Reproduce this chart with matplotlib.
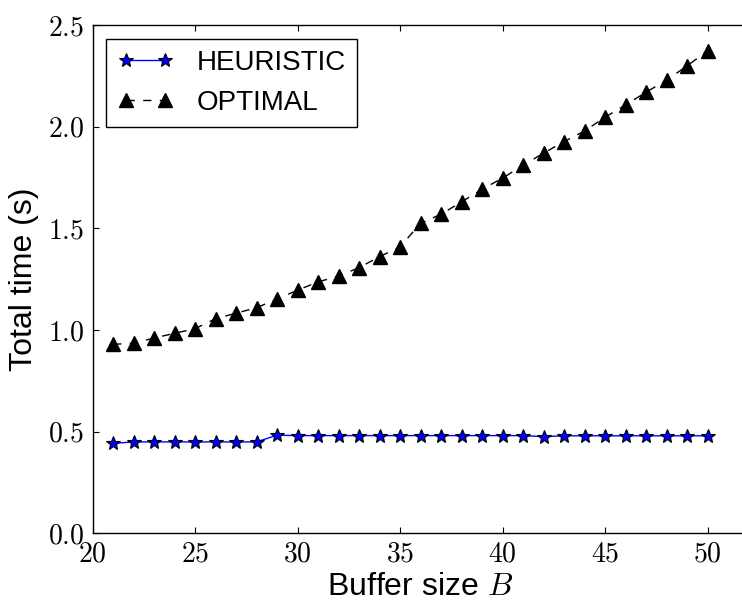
import matplotlib
matplotlib.use("Agg")
import matplotlib.pyplot as plt
from matplotlib.ticker import FuncFormatter

# ------------------------------------------------------------
# Data
# ------------------------------------------------------------

buffer_sizes = list(range(21, 51))

heuristic_time = [
    0.443, 0.450, 0.450, 0.450, 0.450, 0.450, 0.450, 0.450,
    0.483, 0.481, 0.481, 0.481, 0.481, 0.481, 0.481, 0.481,
    0.481, 0.481, 0.481, 0.481, 0.481, 0.476, 0.480, 0.480,
    0.480, 0.480, 0.480, 0.480, 0.480, 0.480,
]

optimal_time = [
    0.930, 0.935, 0.961, 0.984, 1.007, 1.056, 1.083, 1.110,
    1.153, 1.196, 1.237, 1.265, 1.307, 1.361, 1.409, 1.525,
    1.570, 1.630, 1.693, 1.747, 1.811, 1.870, 1.927, 1.979,
    2.047, 2.107, 2.170, 2.229, 2.299, 2.374,
]

x_ticks = [20, 25, 30, 35, 40, 45, 50]
y_ticks = [0.0, 0.5, 1.0, 1.5, 2.0, 2.5]

# ------------------------------------------------------------
# Plot
# ------------------------------------------------------------

plt.rcParams["mathtext.fontset"] = "cm"
plt.rcParams["font.family"] = ["Liberation Sans", "DejaVu Sans"]

fig = plt.figure(figsize=(7.42, 6.03), dpi=100)
ax = fig.add_axes([0.1247, 0.1154, 0.8841, 0.843])

ax.plot(
    buffer_sizes, heuristic_time,
    color="b", linestyle="-", linewidth=1.0,
    marker="*", markersize=10.5, markerfacecolor="b", markeredgecolor="k",
    markeredgewidth=0.8, label="HEURISTIC",
)
ax.plot(
    buffer_sizes, optimal_time,
    color="k", linestyle=(0, (6, 6)), linewidth=1.0,
    marker="^", markersize=10, markerfacecolor="k", markeredgecolor="k",
    label="OPTIMAL",
)

ax.set_xlim(20, 52)
ax.set_ylim(0, 2.5)
ax.set_xticks(x_ticks)
ax.set_yticks(y_ticks)
ax.xaxis.set_major_formatter(FuncFormatter(lambda v, p: r"$%d$" % v))
ax.yaxis.set_major_formatter(FuncFormatter(lambda v, p: r"$%.1f$" % v))

ax.tick_params(direction="in", length=4, width=0.8, top=True, right=True,
               labelsize=20, pad=6)
for spine in ax.spines.values():
    spine.set_linewidth(1.0)

ax.set_xlabel(r"Buffer size $B$", fontsize=23, labelpad=3)
ax.set_ylabel("Total time (s)", fontsize=23, labelpad=6)

leg = ax.legend(loc="upper left", numpoints=2, fontsize=20, fancybox=False,
                framealpha=1.0, edgecolor="k", borderaxespad=0.5,
                handlelength=2.0, handletextpad=0.85, borderpad=0.4,
                labelspacing=0.5)
leg.get_frame().set_linewidth(1.0)

fig.savefig("out.png", dpi=100)
